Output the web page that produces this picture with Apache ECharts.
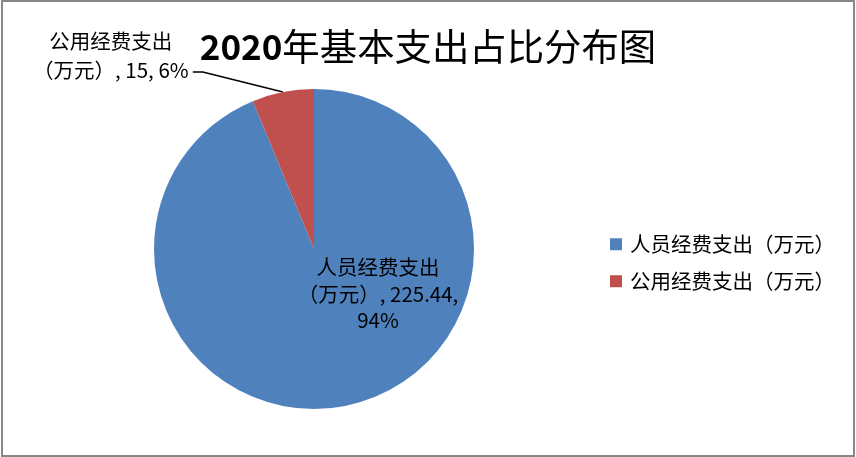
<!DOCTYPE html>
<html><head><meta charset="utf-8">
<script src="https://cdn.jsdelivr.net/npm/echarts@6/dist/echarts.min.js"></script>
<style>
html,body{margin:0;padding:0;background:#fff}
#wrap{position:relative;width:856px;height:457px}
#c{position:absolute;left:0;top:0;width:856px;height:457px}
#b{position:absolute;left:1px;top:0;width:854px;height:457px;box-sizing:border-box;border:2px solid #878787;pointer-events:none}
</style>
</head><body>
<div id="wrap"><div id="c"></div><div id="b"></div></div>
<script>
const titleYear = '2020';
const titleRest = '年基本支出占比分布图';
const categories = ['人员经费支出（万元）', '公用经费支出（万元）'];
const values = [225.44, 15];
const colors = ['#4F81BD', '#C0504D'];

const FONT = 'Noto Sans CJK SC';

function splitName(n) {
  const i = n.indexOf('（');
  return i >= 0 ? [n.slice(0, i), n.slice(i)] : [n, ''];
}

function fmt(p) {
  const parts = splitName(p.name);
  const pct = Math.round(p.percent) + '%';
  if (p.dataIndex === 0) {
    return '{a|' + parts[0] + '}\n{a|' + parts[1] + ', ' + p.value + ',}\n{a|' + pct + '}';
  }
  return '{a|' + parts[0] + '}\n{a|' + parts[1] + ', ' + p.value + ', ' + pct + '}';
}

const chart = echarts.init(document.getElementById('c'), null, {renderer: 'canvas'});
chart.setOption({
  animation: false,
  backgroundColor: '#fff',
  title: {
    text: '{a|' + titleYear + '}{b|' + titleRest + '}',
    left: 'center',
    top: 22,
    textStyle: {
      rich: {
        a: {fontSize: 35, fontWeight: 'bold', fontFamily: FONT, color: '#000', lineHeight: 40},
        b: {fontSize: 37.4, fontWeight: 'normal', fontFamily: FONT, color: '#000', lineHeight: 40}
      }
    }
  },
  legend: {
    orient: 'vertical',
    left: 610,
    top: 234,
    padding: 0,
    itemWidth: 12,
    itemHeight: 12,
    itemGap: 16.5,
    icon: 'rect',
    data: categories,
    textStyle: {fontSize: 20.5, color: '#000', fontFamily: FONT, padding: [0, 0, 0, 3]}
  },
  series: [{
    type: 'pie',
    center: [314, 249],
    radius: 160,
    startAngle: 90,
    clockwise: true,
    avoidLabelOverlap: false,
    emphasis: {disabled: true},
    label: {
      show: true,
      position: 'outside',
      formatter: fmt,
      distanceToLabelLine: 7,
      padding: [0, 0, 33, 0],
      rich: {
        a: {fontSize: 20.5, lineHeight: 28.5, width: 150, align: 'center', fontFamily: FONT, color: '#000'}
      }
    },
    labelLine: {show: true, length: 20.5, length2: 86, lineStyle: {color: '#000', width: 1.5}},
    labelLayout: function (params) {
      if (params.dataIndex === 1 && params.labelLinePoints) {
        const p = params.labelLinePoints;
        return {labelLinePoints: [p[0], [p[2][0] + 10, p[2][1]], p[2]]};
      }
    },
    data: categories.map(function (n, i) {
      const item = {name: n, value: values[i], itemStyle: {color: colors[i]}};
      if (i === 0) {
        item.label = {
          position: 'center',
          padding: [90, 0, 0, 128],
          rich: {a: {fontSize: 20.5, lineHeight: 26.5, align: 'center', fontFamily: FONT, color: '#000'}}
        };
        item.labelLine = {show: false};
      }
      return item;
    })
  }]
});
</script>
</body></html>
